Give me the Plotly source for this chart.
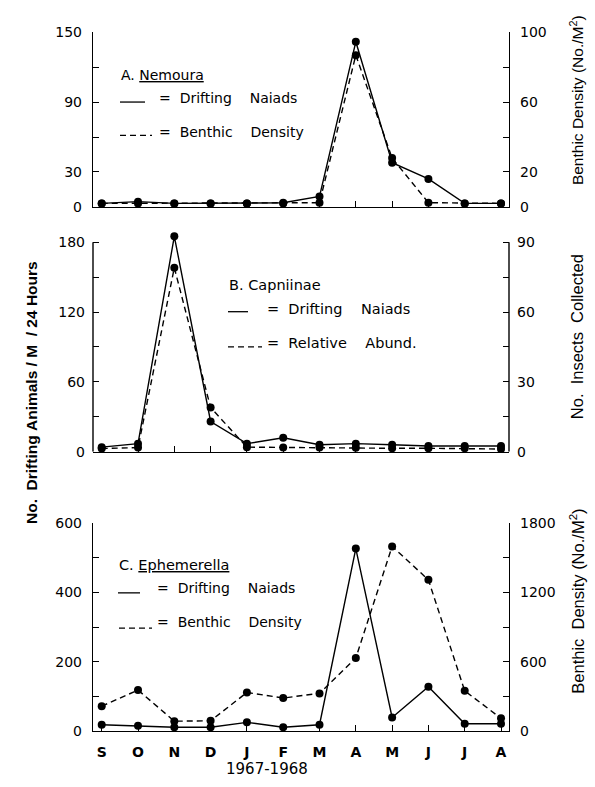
import plotly.graph_objects as go

# ---------------- data ----------------
months = ["S", "O", "N", "D", "J", "F", "M", "A", "M", "J", "J", "A"]
xpos = list(range(len(months)))

# Panel A: Nemoura
a_drift = [3, 4.5, 3, 3, 3, 3.5, 9, 142, 38, 24, 3, 3]          # left axis
a_benthic = [2, 2, 2, 2, 2, 2, 2.4, 87, 28, 2.4, 2, 2]          # right axis (No./M2)

# Panel B: Capniinae
b_drift = [4, 7, 185, 26, 7, 12, 6, 7, 6, 5, 5, 5]              # left axis
b_relabund = [1.4, 1.8, 79, 19, 2, 1.8, 1.8, 1.7, 1.5, 1.5, 1.5, 1.2]  # right axis

# Panel C: Ephemerella
c_drift = [18, 15, 11, 11, 25, 11, 18, 527, 39, 128, 21, 21]     # left axis
c_benthic = [215, 355, 85, 88, 334, 286, 326, 632, 1600, 1310, 348, 110]  # right axis

# labelled ticks (minor ticks fill in between)
a_left_ticks, a_left_step, a_left_max = [0, 30, 90, 150], 30, 150
a_right_ticks, a_right_step, a_right_max = [0, 20, 60, 100], 20, 100
b_left_ticks, b_left_step, b_left_max = [0, 60, 120, 180], 30, 180
b_right_ticks, b_right_step, b_right_max = [0, 30, 60, 90], 15, 90
c_left_ticks, c_left_step, c_left_max = [0, 200, 400, 600], 100, 600
c_right_ticks, c_right_step, c_right_max = [0, 600, 1200, 1800], 300, 1800

# ---------------- layout helpers ----------------
W, H = 595, 787
def px(x):
    return x / W
def py(y):
    return 1 - y / H

FONT = "DejaVu Sans"
TICKFONT = dict(family=FONT, size=14, color="black")
LW = 1.4
MK = dict(size=8, color="black")
DASH = "6px,4px"

fig = go.Figure()

def add_pair(xa, yl, yr, left_vals, right_vals):
    fig.add_trace(go.Scatter(x=xpos, y=left_vals, xaxis=xa, yaxis=yl, mode="lines+markers",
                             line=dict(color="black", width=LW), marker=MK,
                             cliponaxis=False, showlegend=False))
    fig.add_trace(go.Scatter(x=xpos, y=right_vals, xaxis=xa, yaxis=yr, mode="lines+markers",
                             line=dict(color="black", width=LW, dash=DASH), marker=MK,
                             cliponaxis=False, showlegend=False))

add_pair("x", "y", "y2", a_drift, a_benthic)
add_pair("x2", "y3", "y4", b_drift, b_relabund)
add_pair("x3", "y5", "y6", c_drift, c_benthic)

xdom = [px(93), px(509)]
xrange_ = [-0.24, 11.22]

# panel B needs headroom above 180 for the November peak; axis lines drawn as shapes up to 180
b_head = 188
b_bot, b_top180 = 453, 239
b_top = b_bot - (b_bot - b_top180) * b_head / b_left_max
doms = {
    "A": [py(203), py(25)],
    "B": [py(b_bot), py(b_top)],
    "C": [py(738), py(526)],
}

def xaxis_def(anchor, labels):
    return dict(domain=xdom, range=xrange_, anchor=anchor, showgrid=False, zeroline=False,
                showline=True, linecolor="black", linewidth=LW,
                tickmode="array", tickvals=xpos, ticktext=months, showticklabels=labels,
                ticks="inside", ticklen=6, tickwidth=1.2, tickcolor="black",
                tickfont=dict(family=FONT, size=14, color="black", weight="bold"),
                ticklabelstandoff=8, fixedrange=True)

def yaxis_def(dom, rng, tv, step, side, anchor, overlay=None, line=True):
    d = dict(domain=dom, range=rng, anchor=anchor, side=side, showgrid=False, zeroline=False,
             showline=line, linecolor="black", linewidth=LW,
             tickmode="array", tickvals=tv, ticktext=[str(v) for v in tv],
             ticks="inside", ticklen=6, tickwidth=1.2, tickcolor="black",
             minor=dict(ticks="inside", ticklen=6, tickwidth=1.2, tickcolor="black",
                        tickmode="linear", tick0=0, dtick=step, showgrid=False),
             tickfont=TICKFONT, ticklabelstandoff=7, fixedrange=True)
    if overlay:
        d["overlaying"] = overlay
    return d

fig.update_layout(
    width=W, height=H, margin=dict(l=0, r=0, t=0, b=0),
    paper_bgcolor="white", plot_bgcolor="white",
    xaxis=xaxis_def("y", False),
    xaxis2=xaxis_def("y3", False),
    xaxis3=xaxis_def("y5", True),
    yaxis=yaxis_def(doms["A"], [0, a_left_max], a_left_ticks, a_left_step, "left", "x"),
    yaxis2=yaxis_def(doms["A"], [0, a_right_max], a_right_ticks, a_right_step, "right", "x", "y"),
    yaxis3=yaxis_def(doms["B"], [0, b_head], b_left_ticks, b_left_step, "left", "x2", line=False),
    yaxis4=yaxis_def(doms["B"], [0, b_head * b_right_max / b_left_max], b_right_ticks, b_right_step,
                     "right", "x2", "y3", line=False),
    yaxis5=yaxis_def(doms["C"], [0, c_left_max], c_left_ticks, c_left_step, "left", "x3"),
    yaxis6=yaxis_def(doms["C"], [0, c_right_max], c_right_ticks, c_right_step, "right", "x3", "y5"),
)

ann = []
def text(x, y, s, size=14, anchor="left", angle=0, bold=False, family=FONT):
    ann.append(dict(x=px(x), y=py(y), xref="paper", yref="paper", text=s, showarrow=False,
                    xanchor=anchor, yanchor="middle", textangle=angle,
                    font=dict(family=family, size=size, color="black",
                              weight="bold" if bold else "normal")))

NB = "\u00a0"
def eq(a, b):
    return "=" + NB * 2 + a + NB * 4 + b

# legends
text(119, 68, "A." + NB + "<u>Nemoura</u>", 14)
text(157, 92, eq("Drifting", "Naiads"), 14)
text(157, 127, eq("Benthic", "Density"), 14)
text(227, 283, "B." + NB + "Capniinae", 14.5)
text(265, 307, eq("Drifting", "Naiads"), 14.5)
text(265, 342, eq("Relative", "Abund."), 14.5)
text(117, 569, "C." + NB + "<u>Ephemerella</u>", 14.5)
text(155, 592, eq("Drifting", "Naiads"), 14)
text(155, 627, eq("Benthic", "Density"), 14)

# axis titles
text(31, 393, "No." + NB * 2 + "Drifting" + NB + "Animals" + NB + "/" + NB + "M" + NB * 2 + "/" + NB + "24" + NB + "Hours",
     15.5, anchor="center", angle=-90, bold=True, family="Liberation Sans")
text(577, 94, "Benthic" + NB + "Density" + NB + "(No./M<sup>2</sup>)", 15.5, anchor="center", angle=-90,
     family="Liberation Sans")
text(577, 336, "No." + NB * 2 + "Insects" + NB * 2 + "Collected", 16.5, anchor="center", angle=-90,
     family="Liberation Sans")
text(577, 606, "Benthic" + NB * 2 + "Density" + NB + "(No./M<sup>2</sup>)", 16.5, anchor="center", angle=-90,
     family="Liberation Sans")
text(267, 777, "1967-1968", 15, anchor="center")

fig.update_layout(annotations=ann)

shapes = []
# panel B vertical axis lines (stop at the 180 tick)
for xd in (0, 1):
    shapes.append(dict(type="line", xref="x2 domain", yref="y3", x0=xd, x1=xd, y0=0, y1=b_left_max,
                       line=dict(color="black", width=LW)))

# legend line samples
def seg(x0, x1, y, dash=None):
    shapes.append(dict(type="line", xref="paper", yref="paper", x0=px(x0), x1=px(x1), y0=py(y), y1=py(y),
                       line=dict(color="black", width=1.3, dash=dash if dash else "solid")))
seg(120, 145, 96)
seg(120, 152, 130, DASH)
seg(228, 248, 310)
seg(228, 262, 346, DASH)
seg(118, 140, 597)
seg(119, 152, 633, DASH)
fig.update_layout(shapes=shapes)

fig.write_html("out.html")
